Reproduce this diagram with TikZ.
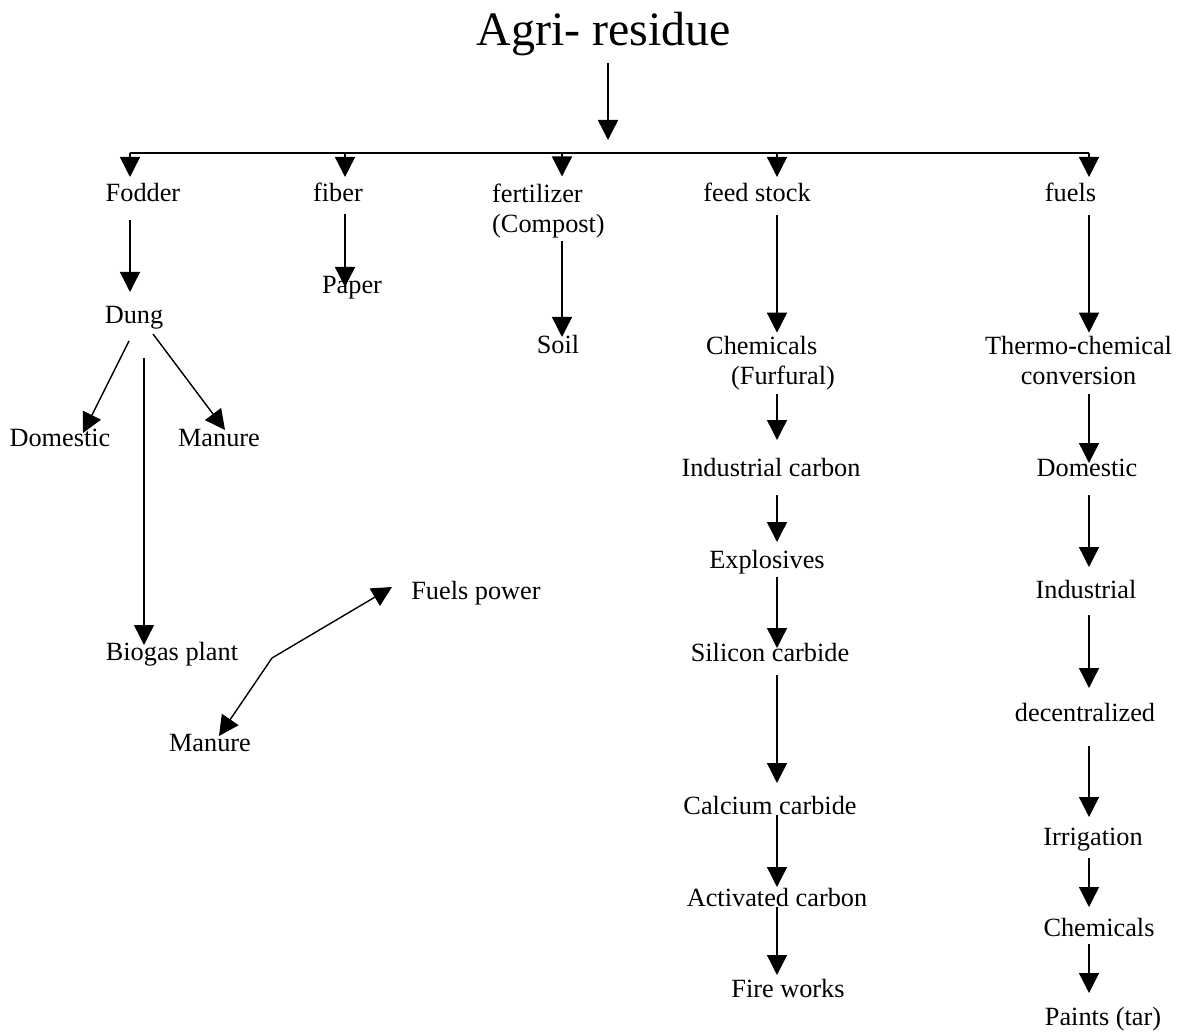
\documentclass[tikz,border=0pt]{standalone}
\usepackage{fontspec}
\setmainfont{Liberation Serif}
\usetikzlibrary{arrows.meta,calc}

\begin{document}
\begin{tikzpicture}[x=1pt,y=-1pt,
  lbl/.style={inner sep=0pt, text height=17.4pt, text depth=0pt,
              font=\fontsize{26.3}{30}\selectfont},
  multi/.style={inner sep=0pt, font=\fontsize{26.3}{30}\selectfont},
  arr/.style={line width=1.4pt, -{Triangle[length=20pt,width=20pt]}},
  barline/.style={line width=2.6pt}]

\useasboundingbox (0,0) rectangle (1181,1032);

% heading
\node[inner sep=0pt, text height=32pt, text depth=0pt,
      font=\fontsize{48}{56}\selectfont] (title) at (604,30) {Agri- residue};

% distribution bar and its columns
\coordinate (cT) at (608,153);
\coordinate (cA) at (130,153);
\coordinate (cB) at (345,153);
\coordinate (cC) at (562,153);
\coordinate (cD) at (777,153);
\coordinate (cE) at (1089,153);

% first level
\node[lbl] (fodder) at (143,193) {Fodder};
\node[lbl] (fiber) at (338,193) {fiber};
\node[multi, anchor=north west, align=left] (fert) at (492,183.5) {fertilizer\\(Compost)};
\node[lbl] (feed) at (757,193) {feed stock};
\node[lbl] (fuels) at (1070.5,193) {fuels};

% fodder branch
\node[lbl] (dung) at (134,315) {Dung};
\node[lbl] (domL) at (60,438) {Domestic};
\node[lbl] (manL) at (219,438) {Manure};
\node[lbl] (biogas) at (172,652) {Biogas plant};
\node[lbl] (fuelsp) at (476,591) {Fuels power};
\node[lbl] (man2) at (210,743) {Manure};
\coordinate (fork) at (272,658);

% fiber and fertilizer branches
\node[lbl] (paper) at (352,285) {Paper};
\node[lbl] (soil) at (558,345) {Soil};

% feed stock branch
\node[multi, anchor=north west, align=left] (chem) at (706,335.7) {Chemicals\\\hspace*{25pt}(Furfural)};
\node[lbl] (indc) at (771,468) {Industrial carbon};
\node[lbl] (expl) at (767,560) {Explosives};
\node[lbl] (sic) at (770,653) {Silicon carbide};
\node[lbl] (cac) at (770,806) {Calcium carbide};
\node[lbl] (acc) at (777,898) {Activated carbon};
\node[lbl] (fire) at (788,989) {Fire works};

% fuels branch
\node[multi, anchor=north, align=center] (thermo) at (1078.5,335.7) {Thermo-chemical\\conversion};
\node[lbl] (domR) at (1087,468) {Domestic};
\node[lbl] (indR) at (1086,590) {Industrial};
\node[lbl] (dec) at (1085,713) {decentralized};
\node[lbl] (irr) at (1093,837) {Irrigation};
\node[lbl] (chemR) at (1099,928) {Chemicals};
\node[lbl] (paints) at (1103,1017) {Paints (tar)};

% heading to bar
\draw[arr] ($(cT |- title.center)+(0,33)$) -- ($(cT)+(0,-13)$);
\draw[barline] (cA) -- (cE);
\draw[arr] (cA) -- ($(cA |- fodder.center)+(0,-16)$);
\draw[arr] (cB) -- ($(cB |- fiber.center)+(0,-16)$);
\draw[arr] (cC) -- ($(cC |- fert.north)+(0,-7)$);
\draw[arr] (cD) -- ($(cD |- feed.center)+(0,-16)$);
\draw[arr] (cE) -- ($(cE |- fuels.center)+(0,-16)$);

% fodder branch connectors
\draw[arr] ($(cA |- fodder.center)+(0,27)$) -- ($(cA |- dung.center)+(0,-23)$);
\draw[arr] ($(dung.center)+(-5,26)$) -- ($(domL.center)+(23,-5)$);
\draw[arr] ($(dung.center)+(19,19)$) -- ($(manL.center)+(6,-8)$);
\draw[arr] ($(dung.center)+(10,43)$) -- ($(biogas.center)+(-28,-7)$);
\draw[arr] (fork) -- ($(fuelsp.center)+(-84,-4)$);
\draw[arr] (fork) -- ($(man2.center)+(9,-7)$);

% fiber and fertilizer connectors
\draw[arr] ($(cB |- fiber.center)+(0,21)$) -- ($(cB |- paper.center)+(0,2)$);
\draw[arr] ($(cC |- fert.north)+(0,58)$) -- ($(cC |- soil.center)+(0,-8)$);

% feed stock connectors
\draw[arr] ($(cD |- feed.center)+(0,22)$) -- ($(cD |- chem.north)+(0,-3)$);
\draw[arr] ($(cD |- chem.north)+(0,58)$) -- ($(cD |- indc.center)+(0,-28)$);
\draw[arr] ($(cD |- indc.center)+(0,27)$) -- ($(cD |- expl.center)+(0,-18)$);
\draw[arr] ($(cD |- expl.center)+(0,17)$) -- ($(cD |- sic.center)+(0,-5)$);
\draw[arr] ($(cD |- sic.center)+(0,22)$) -- ($(cD |- cac.center)+(0,-23)$);
\draw[arr] ($(cD |- cac.center)+(0,9)$) -- ($(cD |- acc.center)+(0,-11)$);
\draw[arr] ($(cD |- acc.center)+(0,9)$) -- ($(cD |- fire.center)+(0,-14)$);

% fuels connectors
\draw[arr] ($(cE |- fuels.center)+(0,22)$) -- ($(cE |- thermo.north)+(0,-3)$);
\draw[arr] ($(cE |- thermo.north)+(0,58)$) -- ($(cE |- domR.center)+(0,-5)$);
\draw[arr] ($(cE |- domR.center)+(0,27)$) -- ($(cE |- indR.center)+(0,-23)$);
\draw[arr] ($(cE |- indR.center)+(0,25)$) -- ($(cE |- dec.center)+(0,-25)$);
\draw[arr] ($(cE |- dec.center)+(0,33)$) -- ($(cE |- irr.center)+(0,-20)$);
\draw[arr] ($(cE |- irr.center)+(0,21)$) -- ($(cE |- chemR.center)+(0,-21)$);
\draw[arr] ($(cE |- chemR.center)+(0,16)$) -- ($(cE |- paints.center)+(0,-24)$);
\end{tikzpicture}
\end{document}
